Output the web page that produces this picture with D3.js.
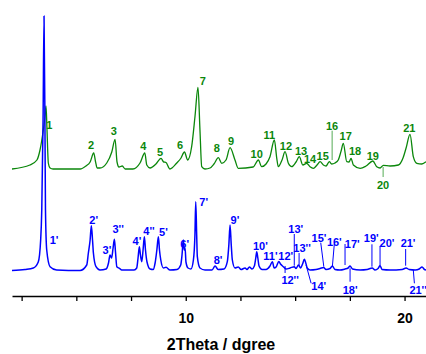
<!DOCTYPE html>
<html>
<head>
<meta charset="utf-8">
<script src="https://cdn.jsdelivr.net/npm/d3@7"></script>
<style>
  html, body { margin: 0; padding: 0; background: #ffffff; }
  svg { display: block; }
</style>
</head>
<body>
<div id="chart"></div>
<script>
// ---------------- DATA ----------------
const greenTheta = [2.06,2.88,3.20,3.34,3.49,3.56,3.615,3.66,3.72,3.80,3.935,5.17,5.44,5.63,5.795,5.88,5.95,6.08,6.39,6.62,6.77,6.86,6.95,7.10,7.23,7.59,7.91,8.13,8.22,8.37,8.64,8.87,8.99,9.09,9.28,9.59,9.785,9.94,10.09,10.27,10.425,10.56,10.65,10.73,10.88,11.11,11.29,11.49,11.645,11.84,12.025,12.25,12.40,13.08,13.32,13.47,13.67,13.85,14.05,14.16,14.23,14.40,14.54,14.69,14.845,15.04,15.19,15.35,15.53,15.68,15.83,16.00,16.14,16.29,16.41,16.56,16.67,16.82,16.97,17.10,17.20,17.36,17.46,17.555,17.66,17.97,18.24,18.55,18.73,18.88,19.03,19.34,19.72,19.93,20.07,20.25,20.40,20.56,20.79,20.98];
const greenIntensity = [110,150,200,300,500,620,740,500,170,120,110,110,140,180,270,180,120,120,170,280,407,180,130,140,110,110,170,270,150,120,160,217,180,177,110,170,220,280,200,333,640,927,500,133,110,120,160,223,167,200,323,200,117,130,200,133,160,233,400,217,133,200,283,167,133,180,233,150,167,133,117,150,183,150,140,183,160,170,200,290,367,183,180,217,150,117,140,190,133,120,147,140,150,220,320,457,233,167,160,183];
const greenOffset = 1000;

const blueTheta = [2.06,2.655,3.035,3.26,3.37,3.42,3.48,3.524,3.57,3.59,3.647,3.80,4.10,5.17,5.475,5.55,5.63,5.686,5.74,5.78,5.90,6.08,6.36,6.47,6.54,6.61,6.68,6.74,6.79,6.85,6.97,7.075,7.64,7.76,7.82,7.88,7.93,7.99,8.05,8.11,8.16,8.23,8.37,8.51,8.60,8.68,8.75,8.80,8.86,8.98,9.10,9.28,9.60,9.77,9.83,9.89,9.93,9.97,10.01,10.105,10.24,10.35,10.42,10.457,10.50,10.53,10.65,10.88,11.20,11.34,11.48,11.75,11.90,11.97,12.025,12.08,12.13,12.25,12.40,12.53,12.71,12.80,12.91,13.03,13.135,13.20,13.245,13.295,13.35,13.49,13.67,13.85,13.96,14.04,14.13,14.255,14.33,14.46,14.58,14.77,14.96,15.04,15.15,15.25,15.34,15.42,15.56,15.68,15.955,16.14,16.30,16.41,16.595,16.70,16.82,17.05,17.28,17.42,17.51,17.62,17.97,18.29,18.52,18.65,18.79,18.88,18.97,19.34,19.89,20.07,20.21,20.49,20.67,20.80,20.91,20.98];
const blueIntensity = [95,105,120,180,400,700,1600,2640,1400,700,300,133,100,95,150,270,400,543,400,270,133,100,110,170,250,220,320,407,280,133,117,100,100,120,220,333,250,183,300,433,300,180,110,105,170,300,433,300,200,120,127,100,105,150,250,400,300,320,180,120,110,200,450,783,450,233,120,100,100,140,105,110,183,350,550,350,200,120,130,105,120,105,130,110,140,220,283,220,140,105,105,140,183,120,130,185,160,133,110,120,133,115,150,120,160,207,117,100,105,115,125,105,115,140,105,100,110,120,140,110,100,105,120,100,115,145,105,100,105,120,105,100,110,130,105,100];

// peak labels: text, 2theta of label, intensity of label
const greenLabels = ["1","2","3","4","5","6","7","8","9","10","11","12","13","14","15","16","17","18","19","20","21"];
const greenLabelTheta = [3.77,5.67,6.71,8.06,8.83,9.74,10.78,11.42,12.07,13.245,13.82,14.58,15.27,15.68,16.26,16.69,17.31,17.74,18.55,19.02,20.22];
const greenLabelIntensity = [550,350,490,343,283,350,990,323,390,260,450,343,293,210,240,540,440,290,243,-50,523];
// pointer lines [theta1, I1, theta2, I2]
const greenPointers = [[16.69,493,16.69,200],[19.02,130,19.02,30]];

const blueLabels = ["1'","2'","3'","3''","4'","4''","5'","6'","7'","8'","9'","10'","11'","12'","12''","13'","13''","14'","15'","16'","17'","18'","19'","20'","21'","21''"];
const blueLabelTheta = [3.98,5.795,6.40,6.91,7.77,8.32,8.98,9.95,10.82,11.48,12.25,13.41,13.87,14.57,14.77,15.03,15.315,16.08,16.09,16.79,17.61,17.51,18.48,19.20,20.16,20.62];
const blueLabelIntensity = [400,600,300,510,393,493,483,360,783,200,600,343,240,240,0,510,323,-60,417,383,360,-100,417,373,373,-100];
const bluePointers = [[14.54,140,14.54,70],[14.96,460,14.96,143],[15.18,270,15.18,140],[15.50,150,15.73,-33],[16.17,373,16.31,133],[16.79,360,16.70,133],[17.28,360,17.28,150],[17.51,117,17.51,-17],[18.51,357,18.51,133],[18.88,340,18.88,150],[20.05,310,20.05,143],[20.40,100,20.45,-33]];

const tickValues = [2.5,5,7.5,10,12.5,15,17.5,20];
const tickLabels = {10:"10", 20:"20"};
const axisTitle = "2Theta / dgree";

// ---------------- DRAW ----------------
const W = 426, H = 354;
const GREEN = "#0b870b", BLUE = "#0000ff";
const FONT = "'Liberation Sans', Arial, Helvetica, sans-serif";

const svg = d3.select("#chart").append("svg")
  .attr("width", W).attr("height", H)
  .style("font-family", FONT);
svg.append("rect").attr("width", W).attr("height", H).attr("fill", "#fff");

const x = d3.scaleLinear().domain([2.06, 20.98]).range([12, 426]);
const y = d3.scaleLinear().domain([0, 2640]).range([280, 16]);

const line = d3.line().x(d => x(d[0])).y(d => y(d[1])).curve(d3.curveMonotoneX);

const greenData = d3.zip(greenTheta, greenIntensity.map(v => v + greenOffset));
const blueData = d3.zip(blueTheta, blueIntensity);

svg.append("path").datum(greenData)
  .attr("d", line).attr("fill", "none")
  .attr("stroke", GREEN).attr("stroke-width", 1.3).attr("stroke-linejoin", "round");

svg.append("path").datum(blueData)
  .attr("d", line).attr("fill", "none")
  .attr("stroke", BLUE).attr("stroke-width", 1.5).attr("stroke-linejoin", "round");

// pointer lines
svg.append("g").selectAll("line").data(greenPointers).join("line")
  .attr("x1", d => x(d[0])).attr("y1", d => y(d[1] + greenOffset))
  .attr("x2", d => x(d[2])).attr("y2", d => y(d[3] + greenOffset))
  .attr("stroke", GREEN).attr("stroke-opacity", 0.7).attr("stroke-width", 1);

svg.append("g").selectAll("line").data(bluePointers).join("line")
  .attr("x1", d => x(d[0])).attr("y1", d => y(d[1]))
  .attr("x2", d => x(d[2])).attr("y2", d => y(d[3]))
  .attr("stroke", BLUE).attr("stroke-width", 1);

// labels
svg.append("g").selectAll("text").data(greenLabels).join("text")
  .attr("x", (d, i) => x(greenLabelTheta[i]))
  .attr("y", (d, i) => y(greenLabelIntensity[i] + greenOffset))
  .attr("dy", "0.36em")
  .attr("text-anchor", "middle")
  .attr("font-size", 11).attr("font-weight", "bold")
  .attr("fill", GREEN).text(d => d);

svg.append("g").selectAll("text").data(blueLabels).join("text")
  .attr("x", (d, i) => x(blueLabelTheta[i]))
  .attr("y", (d, i) => y(blueLabelIntensity[i]))
  .attr("dy", "0.36em")
  .attr("text-anchor", "middle")
  .attr("font-size", 11).attr("font-weight", "bold")
  .attr("fill", BLUE).text(d => d);

// x axis
const axis = d3.axisBottom(x)
  .tickValues(tickValues)
  .tickFormat(d => tickLabels[d] || "")
  .tickSize(5).tickSizeOuter(0).tickPadding(12);

const gx = svg.append("g").attr("transform", "translate(0,296)").call(axis);
gx.select(".domain").attr("stroke", "#000").attr("stroke-width", 1.6);
gx.selectAll(".tick line").attr("stroke", "#000").attr("stroke-width", 1.3);
gx.selectAll(".tick text")
  .attr("font-family", FONT).attr("font-size", 14).attr("font-weight", "bold").attr("fill", "#000");

svg.append("text")
  .attr("x", 221).attr("y", 350)
  .attr("text-anchor", "middle")
  .attr("font-size", 16).attr("font-weight", "bold").attr("fill", "#000")
  .text(axisTitle);
</script>
</body>
</html>
